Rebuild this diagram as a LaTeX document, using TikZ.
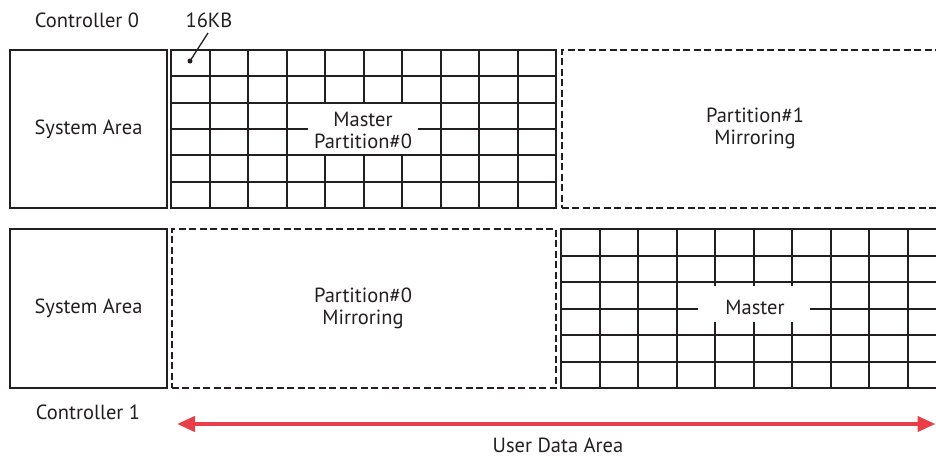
\documentclass[tikz,border=0pt]{standalone}
\usepackage{fontspec}
\setmainfont{PT Sans}
\usetikzlibrary{arrows.meta}
\definecolor{ink}{RGB}{35,31,32}
\definecolor{arrred}{RGB}{233,62,72}
\tikzset{
  solidbox/.style={draw=ink, line width=2pt, inner sep=0pt, minimum width=#1},
  dashbox/.style={draw=ink, line width=2pt, dash pattern=on 7pt off 3.5pt, inner sep=0pt},
  gridline/.style={draw=ink, line width=2pt},
  lbl/.style={font=\fontsize{20.5}{22}\selectfont, text=ink, align=center},
  maskbox/.style={fill=white, inner sep=0pt},
}
\begin{document}
\begin{tikzpicture}[x=1pt,y=-1pt]
\useasboundingbox (0,0) rectangle (936,458);
\clip (0,0) rectangle (936,458);

% ---- top row (Controller 0)
\node[solidbox=157pt, minimum height=158pt, lbl] (sys0) at (88.5,129) {System Area};
\foreach \i in {1,...,9} \draw[gridline] ({171+38.5*\i},50) -- ({171+38.5*\i},208);
\foreach \j in {1,...,5} \draw[gridline] (171,{50+26.33*\j}) -- (556,{50+26.33*\j});
\node[solidbox=385pt, minimum height=158pt] (grid0) at (363.5,129) {};
\node[maskbox, minimum width=110pt, minimum height=50pt] (mask0) at (363,129) {};
\node[lbl] (master0) at (363,130) {Master\\Partition\#0};
\node[dashbox, minimum width=400pt, minimum height=158pt] (mir1) at (761.5,129) {};
\node[lbl] (mir1t) at (755,128) {Partition\#1\\Mirroring};

% ---- bottom row (Controller 1)
\node[solidbox=157pt, minimum height=158.5pt, lbl] (sys1) at (88.5,308.5) {System Area};
\node[dashbox, minimum width=384.5pt, minimum height=158.5pt] (mir0) at (363.8,308.5) {};
\node[lbl] (mir0t) at (363,308) {Partition\#0\\Mirroring};
\foreach \i in {1,...,9} \draw[gridline] ({561+38.5*\i},229) -- ({561+38.5*\i},388);
\foreach \j in {1,...,5} \draw[gridline] (561,{229+26.5*\j}) -- (946,{229+26.5*\j});
\node[solidbox=385pt, minimum height=159pt] (grid1) at (753.5,308.5) {};
\node[maskbox, minimum width=112pt, minimum height=36pt] (mask1) at (754,304) {};
\node[lbl] (master1) at (755,307) {Master};

% ---- labels
\node[lbl] (c0) at (87,20) {Controller 0};
\node[lbl] (kb) at (209,20) {16KB};
\node[circle, fill=ink, inner sep=0pt, minimum size=5pt] (dot) at (190,61) {};
\coordinate (kbl) at (208,33);
\draw[ink, line width=1.3pt] (kbl) -- (dot.center);
\node[lbl] (c1) at (88,412) {Controller 1};

% ---- user data area arrow
\coordinate (ua1) at (177,424);
\coordinate (ua2) at (935.5,424);
\draw[arrred, line width=4pt, {Triangle[length=18pt,width=15pt]}-{Triangle[length=18pt,width=15pt]}] (ua1) -- (ua2);
\node[lbl] (uda) at (558,445) {User Data Area};
\end{tikzpicture}
\end{document}
